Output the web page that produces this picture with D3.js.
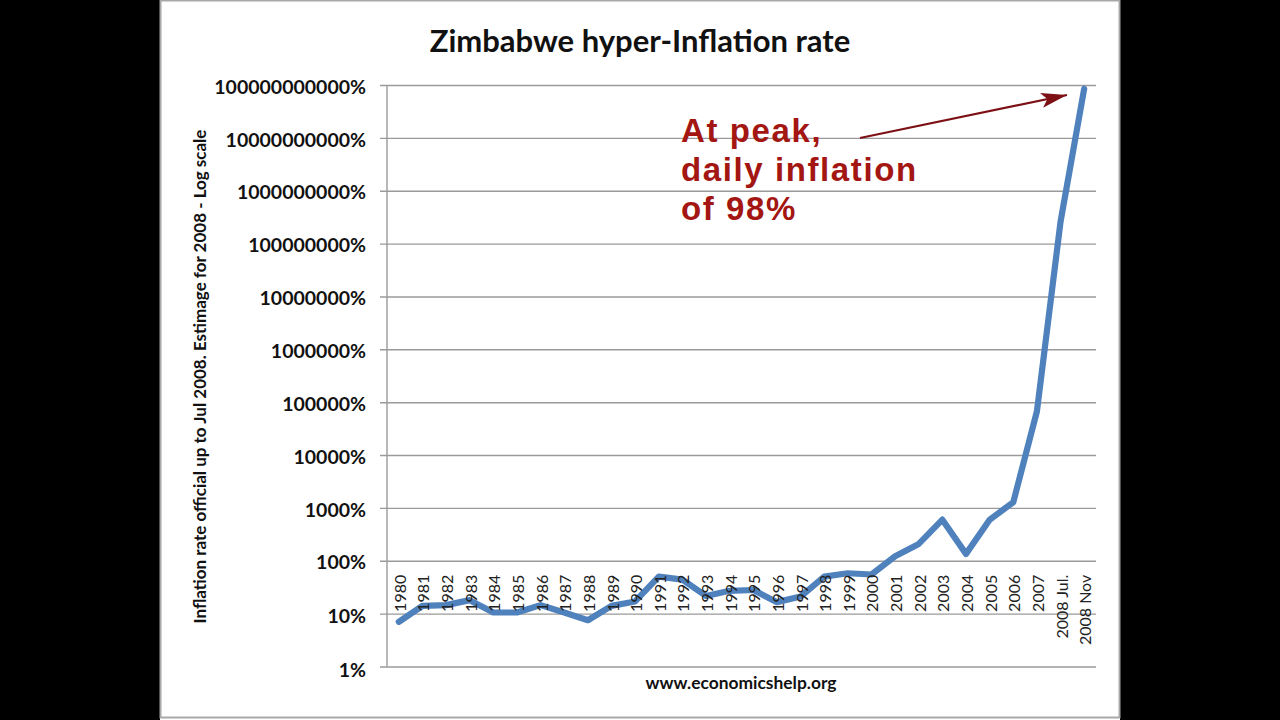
<!DOCTYPE html>
<html>
<head>
<meta charset="utf-8">
<script src="https://cdn.jsdelivr.net/npm/d3@7"></script>
<style>
  html, body { margin: 0; padding: 0; background: #000; }
  svg { display: block; }
</style>
</head>
<body>
<svg id="chart" width="1280" height="720"></svg>
<script>
const years = ["1980","1981","1982","1983","1984","1985","1986","1987","1988","1989",
  "1990","1991","1992","1993","1994","1995","1996","1997","1998","1999",
  "2000","2001","2002","2003","2004","2005","2006","2007","2008 Jul.","2008 Nov"];
const inflation = [7, 14, 14.5, 18, 10.5, 10.5, 14.5, 10.5, 7.5, 14, 17, 50, 44, 21.5, 27, 28, 16.5, 21, 50, 58, 55,
  122, 208, 600, 135, 600, 1280, 67000, 2.6e8, 8.5e10];
const yTicks = [1, 10, 100, 1000, 10000, 100000, 1000000, 10000000, 100000000,
  1000000000, 10000000000, 100000000000];
const titleText = "Zimbabwe hyper-Inflation rate";
const yAxisText = "Inflation rate official up to Jul 2008. Estimage for 2008 - Log scale";
const sourceText = "www.economicshelp.org";
const noteLines = ["At peak,", "daily inflation", "of 98%"];

const margin = { top: 85, right: 184, bottom: 53.5, left: 387 };
const width = 1280, height = 720;

const svg = d3.select("#chart");

// white slide behind the chart, black bars either side
svg.append("rect").attr("x", 160).attr("y", 0).attr("width", 960).attr("height", 720)
  .attr("fill", "#fff");
svg.append("rect").attr("x", 160.5).attr("y", 0.5).attr("width", 959).attr("height", 717)
  .attr("fill", "none").attr("stroke", "#a8a8a8").attr("stroke-width", 2);

const x = d3.scaleBand().domain(years).range([margin.left, width - margin.right]);
const y = d3.scaleLog().domain([1, 1e11]).range([height - margin.bottom, margin.top]);

// gridlines + labels
const yAxis = d3.axisLeft(y)
  .tickValues(yTicks)
  .tickFormat(d => d3.format("d")(d) + "%")
  .tickSize(0);

const yG = svg.append("g").attr("transform", `translate(${margin.left},0)`).call(yAxis);
yG.select(".domain").remove();
yG.selectAll("text")
  .attr("x", -21)
  .attr("y", d => (d === 1 ? 2 : d === 10 ? 1 : 0)) // low labels drift below their lines
  .attr("dy", "0.42em")
  .attr("font-family", "Lato, sans-serif")
  .attr("font-weight", 700)
  .attr("font-size", 19.5)
  .attr("fill", "#111");
yG.selectAll(".tick").append("line")
  .attr("x1", -7).attr("x2", width - margin.right - margin.left)
  .attr("stroke", "#9a9a9a").attr("stroke-width", 1.4);

svg.append("line")
  .attr("x1", margin.left).attr("x2", margin.left)
  .attr("y1", margin.top).attr("y2", height - margin.bottom)
  .attr("stroke", "#9a9a9a").attr("stroke-width", 1.4);

const line = d3.line()
  .x((d, i) => x(years[i]) + x.bandwidth() / 2)
  .y(d => y(d));

svg.append("path").datum(inflation)
  .attr("d", line)
  .attr("fill", "none")
  .attr("stroke", "#4f81bd")
  .attr("stroke-width", 6.2)
  .attr("stroke-linejoin", "round")
  .attr("stroke-linecap", "round");

// year labels sit on a fixed baseline just under the 100% line, on top of the line
const yearLabels = svg.append("g");
yearLabels.selectAll("text").data(years).join("text")
  .attr("transform", d => `translate(${x(d) + x.bandwidth() / 2 + 7},${y(100) + 14}) rotate(-90)`)
  .attr("text-anchor", "end")
  .attr("font-family", "Lato, sans-serif")
  .attr("font-size", 16)
  .attr("fill", "#222")
  .text(d => d);

// title and axis text
svg.append("text").attr("x", 640).attr("y", 52)
  .attr("text-anchor", "middle")
  .attr("font-family", "Lato, sans-serif").attr("font-weight", 700).attr("font-size", 31)
  .attr("fill", "#111").text(titleText);

svg.append("text")
  .attr("transform", "translate(206,376.5) rotate(-90)")
  .attr("text-anchor", "middle")
  .attr("font-family", "Lato, sans-serif").attr("font-weight", 700).attr("font-size", 17)
  .attr("fill", "#111").text(yAxisText);

svg.append("text").attr("x", 741).attr("y", 689)
  .attr("text-anchor", "middle")
  .attr("font-family", "Lato, sans-serif").attr("font-weight", 700).attr("font-size", 17.4)
  .attr("fill", "#111").text(sourceText);

// annotation
const noteColor = "#a31612";
svg.append("g").selectAll("text").data(noteLines).join("text")
  .attr("x", 681)
  .attr("y", (d, i) => 142 + i * 39)
  .attr("font-family", "'Liberation Sans', Arial, sans-serif")
  .attr("font-weight", 700).attr("font-size", 33)
  .attr("letter-spacing", 1.6)
  .attr("fill", noteColor)
  .text(d => d);

svg.append("defs").append("marker")
  .attr("id", "arrow").attr("viewBox", "0 0 26 15")
  .attr("refX", 26).attr("refY", 7.5)
  .attr("markerWidth", 26).attr("markerHeight", 15)
  .attr("markerUnits", "userSpaceOnUse")
  .attr("orient", "auto")
  .append("path").attr("d", "M0,0 L26,7.5 L0,15 L6,7.5 Z").attr("fill", "#7d1015");

svg.append("line")
  .attr("x1", 860).attr("y1", 138).attr("x2", 1067).attr("y2", 95)
  .attr("stroke", "#7d1015").attr("stroke-width", 2.2)
  .attr("marker-end", "url(#arrow)");
</script>
</body>
</html>
